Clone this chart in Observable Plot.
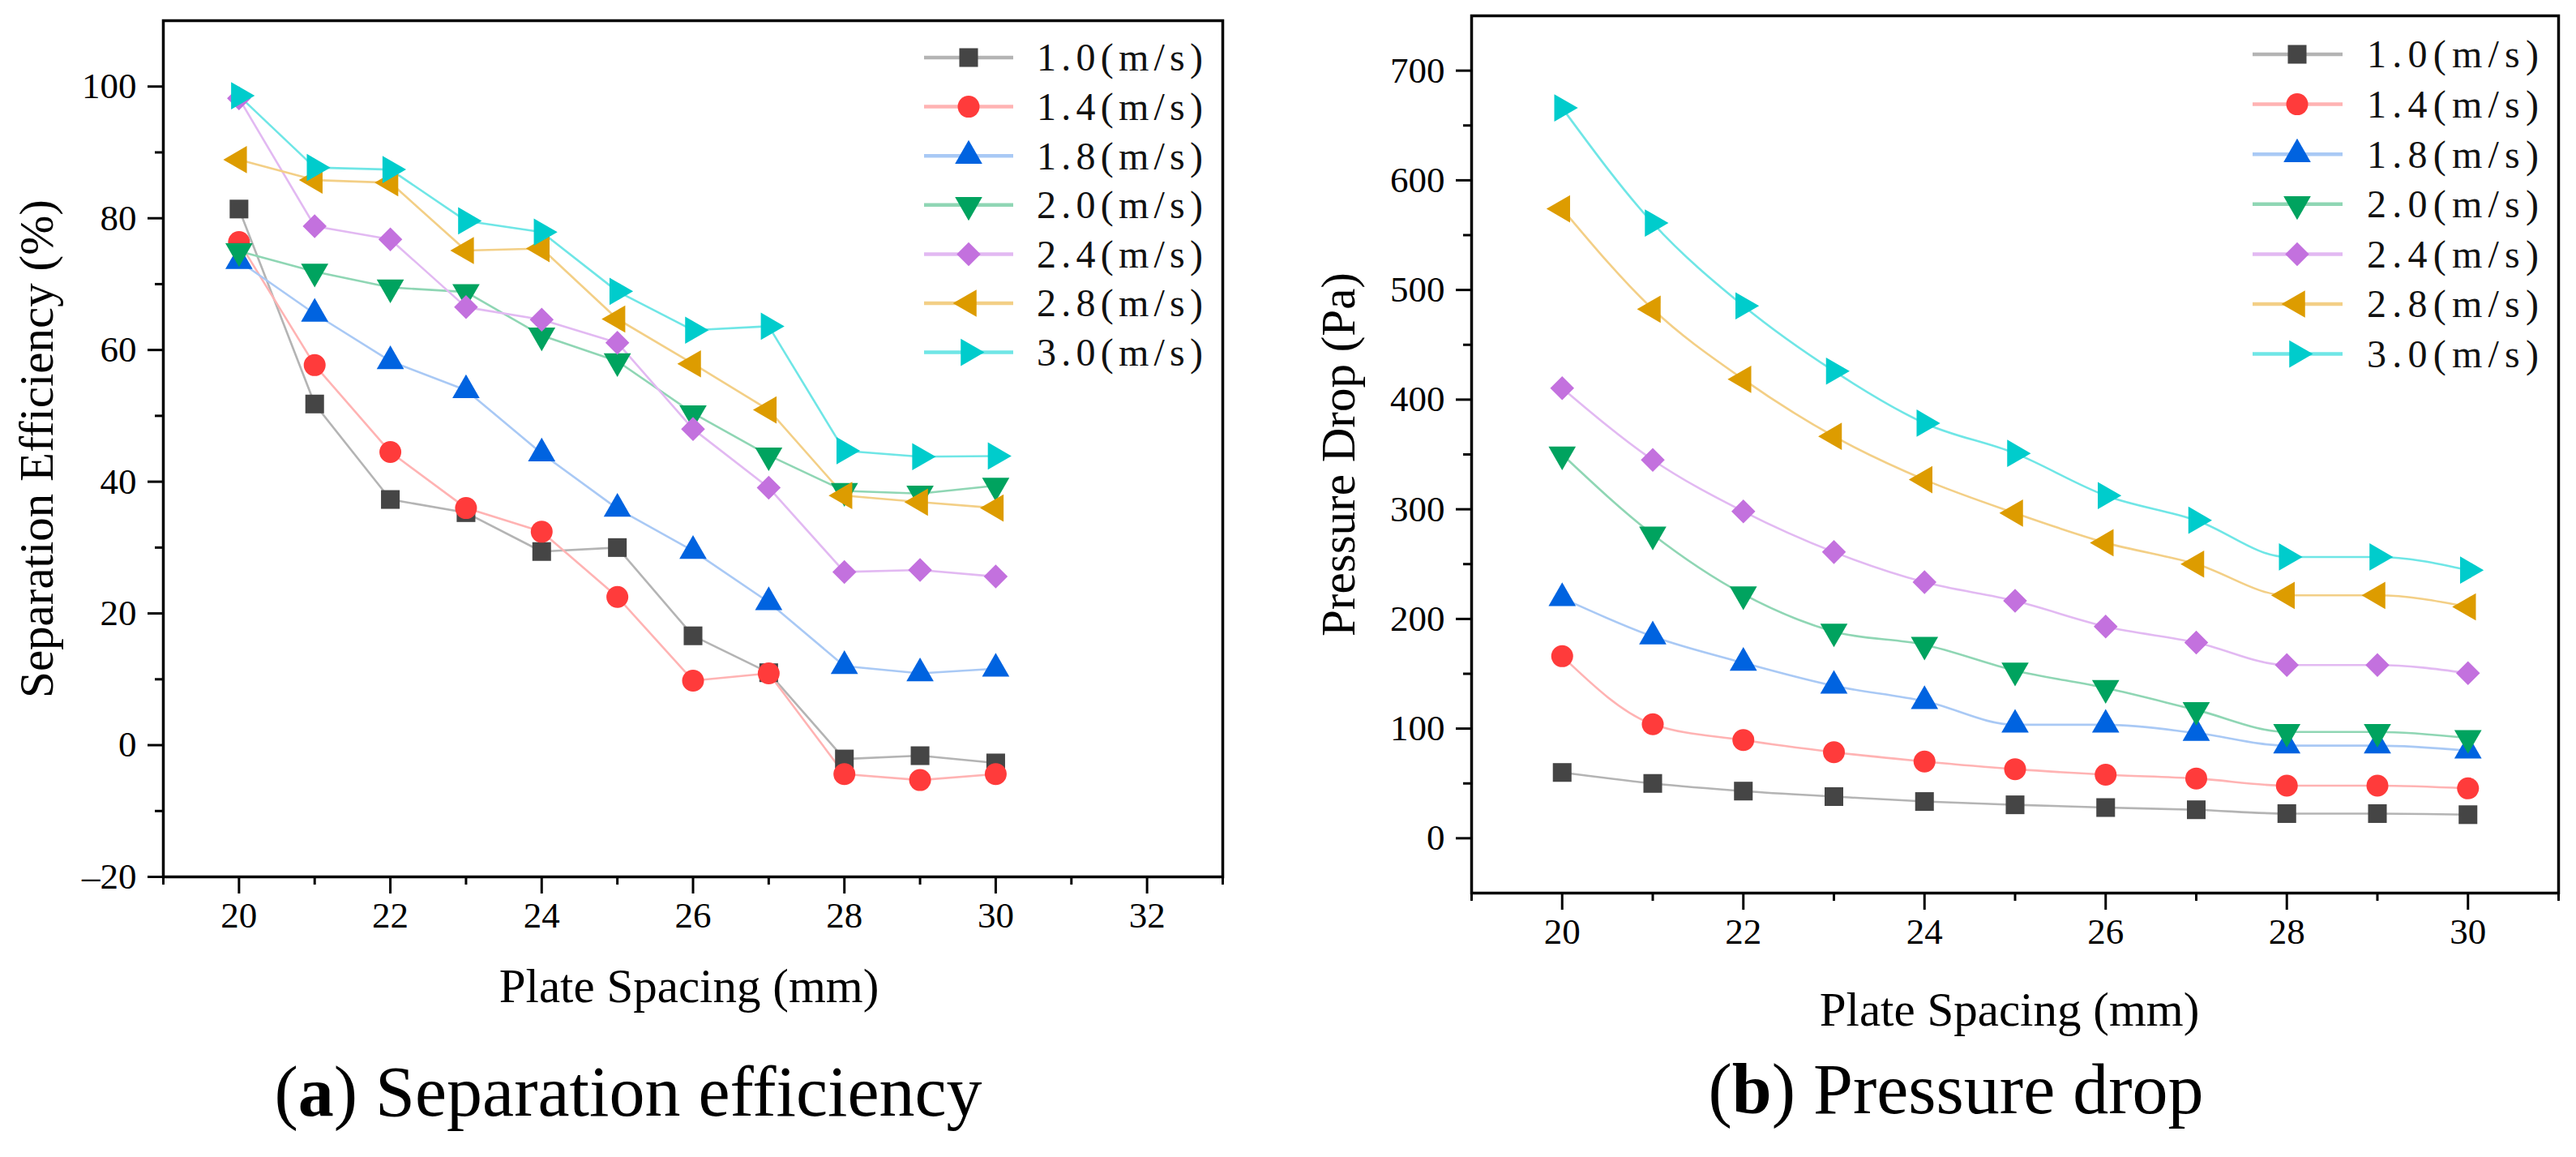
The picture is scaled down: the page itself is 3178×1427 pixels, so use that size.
<!DOCTYPE html>
<html>
<head>
<meta charset="utf-8">
<script src="https://cdn.jsdelivr.net/npm/d3@7"></script>
<script src="https://cdn.jsdelivr.net/npm/@observablehq/plot@0.6"></script>
<style>
html, body { margin: 0; padding: 0; background: #fff; }
#wrap { position: relative; width: 3178px; height: 1427px; overflow: hidden; background: #fff;
  font-family: "Liberation Serif", "Times New Roman", serif; color: #000; }
#wrap svg.panel { position: absolute; top: 0; overflow: visible; }
#overlay { position: absolute; left: 0; top: 0; pointer-events: none; }
</style>
</head>
<body>
<div id="wrap"></div>
<script>
// ---------- data ----------
const spacing = [20, 21, 22, 23, 24, 25, 26, 27, 28, 29, 30];
const speeds = ["1.0", "1.4", "1.8", "2.0", "2.4", "2.8", "3.0"];
const legendLabels = ["1.0(m/s)", "1.4(m/s)", "1.8(m/s)", "2.0(m/s)", "2.4(m/s)", "2.8(m/s)", "3.0(m/s)"];

// (a) separation efficiency (%)
const eff_1_0 = [81.4, 51.8, 37.3, 35.3, 29.4, 30.0, 16.6, 11.0, -2.1, -1.6, -2.7];
const eff_1_4 = [76.4, 57.7, 44.5, 36.0, 32.4, 22.5, 9.8, 10.9, -4.4, -5.3, -4.4];
const eff_1_8 = [73.5, 65.5, 58.3, 53.9, 44.3, 35.9, 29.5, 21.7, 12.0, 10.9, 11.6];
const eff_2_0 = [75.0, 71.9, 69.5, 68.8, 62.2, 58.3, 50.4, 44.0, 38.6, 38.2, 39.4];
const eff_2_4 = [98.2, 78.8, 76.8, 66.5, 64.6, 61.1, 48.0, 39.1, 26.3, 26.6, 25.6];
const eff_2_8 = [88.9, 85.8, 85.4, 75.1, 75.4, 64.7, 57.9, 50.9, 37.9, 36.9, 36.0];
const eff_3_0 = [98.6, 87.7, 87.4, 79.6, 77.9, 68.9, 63.0, 63.6, 44.7, 43.8, 43.9];

// (b) pressure drop (Pa)
const dp_1_0 = [60, 50, 43, 38, 33.5, 30.5, 28, 26, 22.5, 22.5, 21.5];
const dp_1_4 = [166, 104, 89.5, 78.5, 70, 63, 58, 54.5, 48, 48, 45.5];
const dp_1_8 = [219, 184, 160, 139, 125, 103.5, 103.5, 96, 84.5, 84.5, 80];
const dp_2_0 = [350, 277, 222.5, 188.5, 176.5, 153, 137, 117, 97, 97, 91.5];
const dp_2_4 = [410.5, 345, 298, 261, 233.5, 216.5, 193, 178.5, 158, 158, 150.5];
const dp_2_8 = [574, 482.5, 418.5, 366.5, 327, 296.5, 269.5, 250, 221.5, 221.5, 211];
const dp_3_0 = [666, 561, 485.5, 426, 378.5, 351, 312.5, 290, 256.5, 256.5, 244.5];

// axis ticks
const effTicksX = [20, 22, 24, 26, 28, 30, 32];
const effMinorX = [19, 21, 23, 25, 27, 29, 31, 33];
const effTicksY = [-20, 0, 20, 40, 60, 80, 100];
const effMinorY = [-10, 10, 30, 50, 70, 90];
const dpTicksX = [20, 22, 24, 26, 28, 30];
const dpMinorX = [19, 21, 23, 25, 27, 29, 31];
const dpTicksY = [0, 100, 200, 300, 400, 500, 600, 700];
const dpMinorY = [50, 150, 250, 350, 450, 550, 650];

// ---------- styles ----------
const markerColor = ["#454545", "#ff3b3b", "#0063e0", "#00a35f", "#c371de", "#dd9c00", "#00cccc"];
const lineColor   = ["#b4b4b4", "#ffb3b3", "#a9c9f5", "#8fd6b4", "#e2b9f2", "#f3cf86", "#6fe6e6"];
const symbolName  = ["square", "circle", "triangle", "triangle", "diamond2", "triangle", "triangle"];
const symbolRot   = [0, 0, 0, 180, 0, -90, 90];
const symbolR     = [13, 13.5, 12.5, 12.5, 13.3, 12.5, 12.5];

const effSeries = [eff_1_0, eff_1_4, eff_1_8, eff_2_0, eff_2_4, eff_2_8, eff_3_0];
const dpSeries  = [dp_1_0, dp_1_4, dp_1_8, dp_2_0, dp_2_4, dp_2_8, dp_3_0];

function toRows(series) {
  return series.map((vals, i) => spacing.map((s, j) => ({speed: speeds[i], spacing: s, value: vals[j]})));
}

const FONT = "Liberation Serif";

function panel({series, curve, xDomain, yDomain, ticksX, minorX, ticksY, minorY,
                width, height, margins, yLabel, yLabelDx, xLabelDx, xLabelDy}) {
  const groups = toRows(series);
  const marks = [];
  groups.forEach((rows, i) => {
    marks.push(Plot.line(rows, {x: "spacing", y: "value", stroke: lineColor[i], strokeWidth: 2.6, curve}));
  });
  groups.forEach((rows, i) => {
    marks.push(Plot.dot(rows, {x: "spacing", y: "value", symbol: symbolName[i], rotate: symbolRot[i],
      r: symbolR[i], fill: markerColor[i], stroke: "none"}));
  });
  marks.push(
    Plot.frame({stroke: "#000", strokeWidth: 3.5}),
    Plot.axisX({ticks: ticksX, tickSize: 21, tickPadding: 10, strokeWidth: 3, fontSize: 45,
      tickFormat: d => String(d), label: null}),
    Plot.axisX({ticks: minorX, tickSize: 10, strokeWidth: 3, fill: "none", tickFormat: () => "", label: null}),
    Plot.axisY({ticks: ticksY, tickSize: 19, tickPadding: 14, strokeWidth: 3, fontSize: 45,
      tickFormat: d => (d < 0 ? "\u2013" + Math.abs(d) : String(d)), label: null}),
    Plot.axisY({ticks: minorY, tickSize: 10, strokeWidth: 3, fill: "none", tickFormat: () => "", label: null}),
    Plot.text([yLabel], {text: d => d, frameAnchor: "left", dx: yLabelDx, rotate: -90,
      textAnchor: "middle", lineAnchor: "middle", fontSize: 59, fill: "#000"}),
    Plot.text(["Plate Spacing (mm)"], {text: d => d, frameAnchor: "bottom", dx: xLabelDx, dy: xLabelDy,
      textAnchor: "middle", lineAnchor: "middle", fontSize: 59, fill: "#000"})
  );
  const svg = Plot.plot({
    width, height,
    marginLeft: margins[0], marginRight: margins[1], marginTop: margins[2], marginBottom: margins[3],
    x: {domain: xDomain},
    y: {domain: yDomain},
    style: {fontFamily: FONT, color: "#000", background: "transparent", overflow: "visible"},
    marks
  });
  svg.classList.add("panel");
  return svg;
}

const wrap = document.getElementById("wrap");

const left = panel({
  series: effSeries, curve: "linear",
  xDomain: [19, 33], yDomain: [-20, 110],
  ticksX: effTicksX, minorX: effMinorX, ticksY: effTicksY, minorY: effMinorY,
  width: 1560, height: 1300, margins: [201, 52, 25, 219],
  yLabel: "Separation Efficiency (%)", yLabelDx: -155, xLabelDx: -5, xLabelDy: 136
});
left.style.left = "0px";
wrap.appendChild(left);

const right = panel({
  series: dpSeries, curve: "monotone-x",
  xDomain: [19, 31], yDomain: [-50, 750],
  ticksX: dpTicksX, minorX: dpMinorX, ticksY: dpTicksY, minorY: dpMinorY,
  width: 1618, height: 1300, margins: [255, 22, 19, 199],
  yLabel: "Pressure Drop (Pa)", yLabelDx: -163, xLabelDx: -7, xLabelDy: 145
});
right.style.left = "1560px";
wrap.appendChild(right);

// ---------- legends (inside each frame, top-right) and captions ----------
const overlay = d3.select(wrap).append("svg").attr("id", "overlay")
  .attr("width", 3178).attr("height", 1427);

const symbolType = {square: d3.symbolSquare, circle: d3.symbolCircle, triangle: d3.symbolTriangle, diamond2: d3.symbolDiamond2 || d3.symbolSquare};

function drawLegend({lineX0, lineX1, markX, textX, y0, step, textLen}) {
  const g = overlay.append("g");
  legendLabels.forEach((lab, i) => {
    const y = y0 + i * step;
    g.append("line").attr("x1", lineX0).attr("x2", lineX1).attr("y1", y).attr("y2", y)
      .attr("stroke", lineColor[i]).attr("stroke-width", 4.5);
    const rot = symbolName[i] === "diamond2" && !d3.symbolDiamond2 ? 45 : symbolRot[i];
    g.append("path")
      .attr("d", d3.symbol(symbolType[symbolName[i]], Math.PI * symbolR[i] * symbolR[i])())
      .attr("transform", `translate(${markX},${y}) rotate(${rot})`)
      .attr("fill", markerColor[i]);
    g.append("text").attr("x", textX).attr("y", y).attr("dy", "0.34em")
      .attr("font-family", FONT).attr("font-size", 48).attr("fill", "#111")
      .attr("textLength", textLen).attr("lengthAdjust", "spacing")
      .text(lab);
  });
}
drawLegend({lineX0: 1140, lineX1: 1250, markX: 1195, textX: 1279, y0: 71, step: 60.6, textLen: 205});
drawLegend({lineX0: 2779, lineX1: 2890, markX: 2834, textX: 2920, y0: 67, step: 61.6, textLen: 212});

function caption(letter, rest, cx, baseline) {
  const t = overlay.append("text").attr("x", cx).attr("y", baseline)
    .attr("text-anchor", "middle").attr("font-family", FONT).attr("font-size", 88).attr("fill", "#000");
  t.append("tspan").text("(");
  t.append("tspan").attr("font-weight", "bold").text(letter);
  t.append("tspan").text(") " + rest);
}
caption("a", "Separation efficiency", 775, 1376);
caption("b", "Pressure drop", 2413, 1373);
</script>
</body>
</html>
